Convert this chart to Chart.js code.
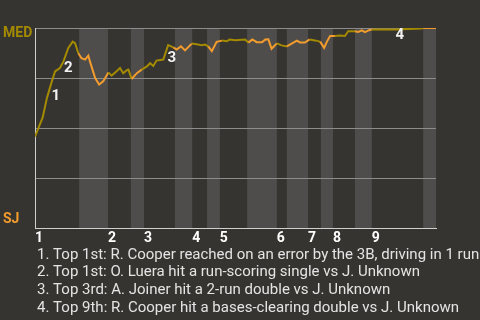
<!DOCTYPE html>
<html>
<head>
<meta charset="utf-8">
<script src="https://cdn.jsdelivr.net/npm/chart.js@4.4.1/dist/chart.umd.min.js"></script>
<style>
  html, body { margin: 0; padding: 0; background: #363430; }
  #wrap { width: 480px; height: 320px; }
</style>
</head>
<body>
<div id="wrap"><canvas id="wpChart" width="480" height="320"></canvas></div>
<script>
// win probability for MED (top = MED, bottom = SJ), x = game progress 0-100
const innings = ['1', '2', '3', '4', '5', '6', '7', '8', '9'];
const topStart = [0, 18.2, 27.2, 39.2, 46.1, 60.3, 68.1, 74.3, 84.0];
const bottomStart = [11.0, 23.9, 34.9, 42.9, 52.9, 62.8, 71.3, 79.8, 96.8];
const bottomEnd = [18.2, 27.2, 39.2, 46.1, 60.3, 68.1, 74.3, 84.0, 100];

const progress = [0, 0.9, 1.9, 3.0, 4.2, 5.0, 6.2, 7.1, 8.3, 9.4, 10.0, 10.8, 11.6, 12.5, 13.3, 13.7,
  15.0, 16.0, 17.0, 18.3, 19.1, 20.0, 21.2, 22.0, 22.9, 23.3, 24.1, 25.4, 26.6, 27.9, 28.7, 29.5,
  30.3, 32.0, 33.2, 34.5, 35.3, 36.4, 37.4, 39.1, 40.3, 41.6, 42.4, 43.2, 44.1, 45.3, 46.6, 47.8,
  48.6, 49.9, 52.4, 53.2, 54.2, 55.3, 56.6, 57.4, 58.2, 59.0, 60.3, 61.5, 62.8, 64.0, 65.3, 66.1,
  67.3, 68.5, 69.8, 71.1, 72.1, 72.8, 73.6, 74.8, 76.1, 77.3, 78.1, 79.8, 80.6, 81.5, 82.3, 83.3,
  84.0, 90.0, 96.4, 96.8, 99.8, 100];
const medWinPct = [45.7, 50.2, 55.2, 65.2, 73.3, 78.3, 80.0, 83.3, 90.0, 93.2, 92.4, 87.4, 84.9, 84.2, 86.2, 83.3,
  75.0, 71.7, 73.3, 77.8, 76.2, 77.8, 80.0, 77.4, 78.9, 79.2, 74.5, 77.4, 79.2, 80.8, 82.4, 81.0,
  83.7, 84.2, 91.4, 90.3, 89.2, 90.8, 88.8, 92.2, 91.9, 91.4, 91.7, 90.8, 88.4, 93.1, 93.7, 93.4,
  94.2, 93.9, 94.2, 92.7, 94.3, 92.9, 92.9, 94.2, 94.3, 89.6, 92.3, 91.3, 90.8, 92.2, 93.7, 92.8,
  92.7, 94.3, 93.8, 93.2, 90.1, 93.2, 96.0, 96.0, 96.3, 96.0, 98.4, 98.4, 98.0, 98.8, 97.9, 98.9,
  99.3, 99.3, 99.8, 100, 100, 99.9];

// numbered key plays (label anchor in chart units)
const eventNum = ['1', '2', '3', '4'];
const eventX = [5.2, 8.3, 34.1, 91.0];
const eventY = [65.8, 79.7, 84.7, 96.3];
const eventText = [
  '1. Top 1st: R. Cooper reached on an error by the 3B, driving in 1 run',
  '2. Top 1st: O. Luera hit a run-scoring single vs J. Unknown',
  '3. Top 3rd: A. Joiner hit a 2-run double vs J. Unknown',
  '4. Top 9th: R. Cooper hit a bases-clearing double vs J. Unknown'
];

const GOLD = '#a38a00';
const ORANGE = '#f29c2e';

function isBottomHalf(x) {
  for (let i = innings.length - 1; i >= 0; i--) {
    if (x >= topStart[i]) return x >= bottomStart[i];
  }
  return false;
}

const extras = {
  id: 'extras',
  beforeDraw(chart) {
    const { ctx, chartArea } = chart;
    const xs = chart.scales.x;
    ctx.save();
    ctx.fillStyle = '#4e4d4b';
    for (let i = 0; i < bottomStart.length; i++) {
      const x0 = xs.getPixelForValue(bottomStart[i]);
      const x1 = xs.getPixelForValue(bottomEnd[i]);
      ctx.fillRect(x0, chartArea.top, x1 - x0, chartArea.bottom - chartArea.top);
    }
    ctx.restore();
  },
  afterDraw(chart) {
    const { ctx, chartArea } = chart;
    const xs = chart.scales.x;
    const ys = chart.scales.y;
    ctx.save();
    // team labels
    ctx.textAlign = 'left';
    ctx.textBaseline = 'middle';
    ctx.font = 'bold 14px Roboto';
    ctx.fillStyle = GOLD;
    ctx.fillText('MED', 3, chartArea.top + 5);
    ctx.fillStyle = ORANGE;
    ctx.fillText('SJ', 3, chartArea.bottom - 9);
    // event numbers
    ctx.textAlign = 'center';
    ctx.font = 'bold 15px Roboto';
    ctx.fillStyle = '#f2f2f2';
    eventNum.forEach((n, i) => {
      ctx.fillText(n, xs.getPixelForValue(eventX[i]), ys.getPixelForValue(eventY[i]));
    });
    // event list
    ctx.textAlign = 'left';
    ctx.textBaseline = 'alphabetic';
    ctx.font = '15px Roboto';
    ctx.fillStyle = '#e4e4e4';
    eventText.forEach((t, i) => {
      ctx.fillText(t, 37, 258.5 + i * 17.8);
    });
    ctx.restore();
  }
};

new Chart(document.getElementById('wpChart'), {
  type: 'line',
  data: {
    datasets: [{
      data: progress.map((x, i) => ({ x: x, y: medWinPct[i] })),
      borderWidth: 2,
      borderColor: GOLD,
      pointRadius: 0,
      tension: 0,
      segment: {
        borderColor: ctx => isBottomHalf((ctx.p0.parsed.x + ctx.p1.parsed.x) / 2) ? ORANGE : GOLD
      }
    }]
  },
  options: {
    responsive: false,
    animation: false,
    layout: { padding: { top: 28, right: 44, left: 0, bottom: 0 } },
    plugins: { legend: { display: false }, tooltip: { enabled: false } },
    scales: {
      x: {
        type: 'linear',
        min: 0,
        max: 100,
        afterBuildTicks: scale => { scale.ticks = topStart.map(v => ({ value: v })); },
        afterFit: scale => { scale.height = 92; },
        grid: { display: false, drawTicks: false },
        border: { color: '#cfcfcf', width: 1 },
        ticks: {
          autoSkip: false,
          maxRotation: 0,
          align: 'start',
          padding: 2,
          color: '#ffffff',
          font: { family: 'Roboto', size: 14, weight: 'bold' },
          callback: (v, i) => innings[i]
        }
      },
      y: {
        min: 0,
        max: 100,
        afterFit: scale => { scale.width = 35; },
        grid: { color: '#8c8c8c', lineWidth: 1, drawTicks: false },
        border: { color: '#cfcfcf', width: 1 },
        ticks: { stepSize: 25, display: false }
      }
    }
  },
  plugins: [extras]
});
</script>
</body>
</html>
